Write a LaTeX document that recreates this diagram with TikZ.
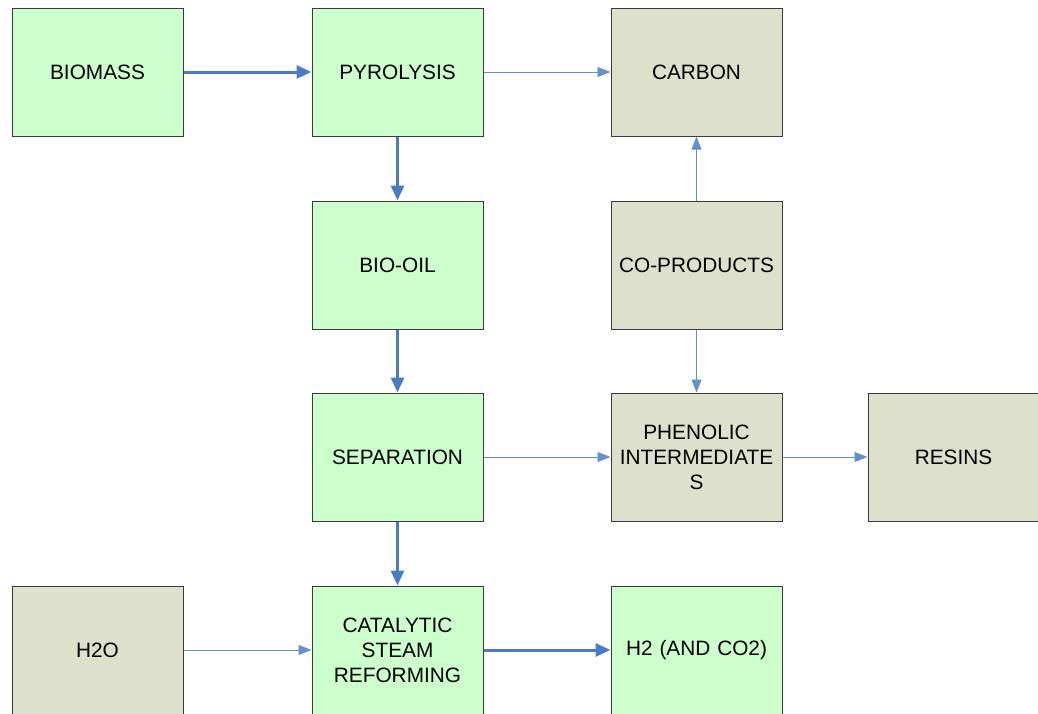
\documentclass[tikz,border=0pt]{standalone}
\usepackage{fontspec}
\setmainfont{Liberation Sans}
\usetikzlibrary{arrows.meta}
\definecolor{boxgreen}{HTML}{CCFFCC}
\definecolor{boxtan}{HTML}{DDE0CB}
\definecolor{arrowblue}{HTML}{4A7CC5}
\definecolor{edgegray}{HTML}{3A3A3A}
\begin{document}
\begin{tikzpicture}[x=1pt,y=-1pt,
  boxbase/.style={draw=edgegray,line width=1pt,minimum width=171pt,minimum height=128pt,
    inner sep=0pt,align=center,font=\fontsize{20.8}{25}\selectfont,text width=165pt},
  greenbox/.style={boxbase,fill=boxgreen},
  tanbox/.style={boxbase,fill=boxtan},
  thickarrow/.style={draw=arrowblue,line width=3pt,-{Triangle[length=15pt,width=13pt]}},
  thinarrow/.style={draw=arrowblue!85,line width=0.8pt,-{Triangle[length=13pt,width=10pt]}}
]
\useasboundingbox (0,0) rectangle (1038,713);
\begin{scope}
\clip (0,0) rectangle (1038,713);
\node[greenbox] (biomass) at (97.5,72) {BIOMASS};
\node[greenbox] (pyro) at (397.5,72) {PYROLYSIS};
\node[tanbox] (carbon) at (696.5,72) {CARBON};
\node[greenbox] (biooil) at (397.5,265) {BIO-OIL};
\node[tanbox] (coprod) at (696.5,265) {CO-PRODUCTS};
\node[greenbox] (sep) at (397.5,457) {SEPARATION};
\node[tanbox] (phen) at (696.5,457) {PHENOLIC\\INTERMEDIATE\\S};
\node[tanbox] (resins) at (953.5,457) {RESINS};
\node[tanbox] (h2o) at (97.5,650) {H2O};
\node[greenbox] (cat) at (397.5,650) {CATALYTIC\\STEAM\\REFORMING};
\node[greenbox] (h2) at (696.5,650) {H2 (AND CO2)};
\end{scope}
\draw[thickarrow] (biomass) -- (pyro);
\draw[thinarrow] (pyro) -- (carbon);
\draw[thickarrow] (pyro) -- (biooil);
\draw[thinarrow] (coprod) -- (carbon);
\draw[thickarrow] (biooil) -- (sep);
\draw[thinarrow] (coprod) -- (phen);
\draw[thinarrow] (sep) -- (phen);
\draw[thinarrow] (phen) -- (resins);
\draw[thickarrow] (sep) -- (cat);
\draw[thinarrow] (h2o) -- (cat);
\draw[thickarrow] (cat) -- (h2);
\end{tikzpicture}
\end{document}
